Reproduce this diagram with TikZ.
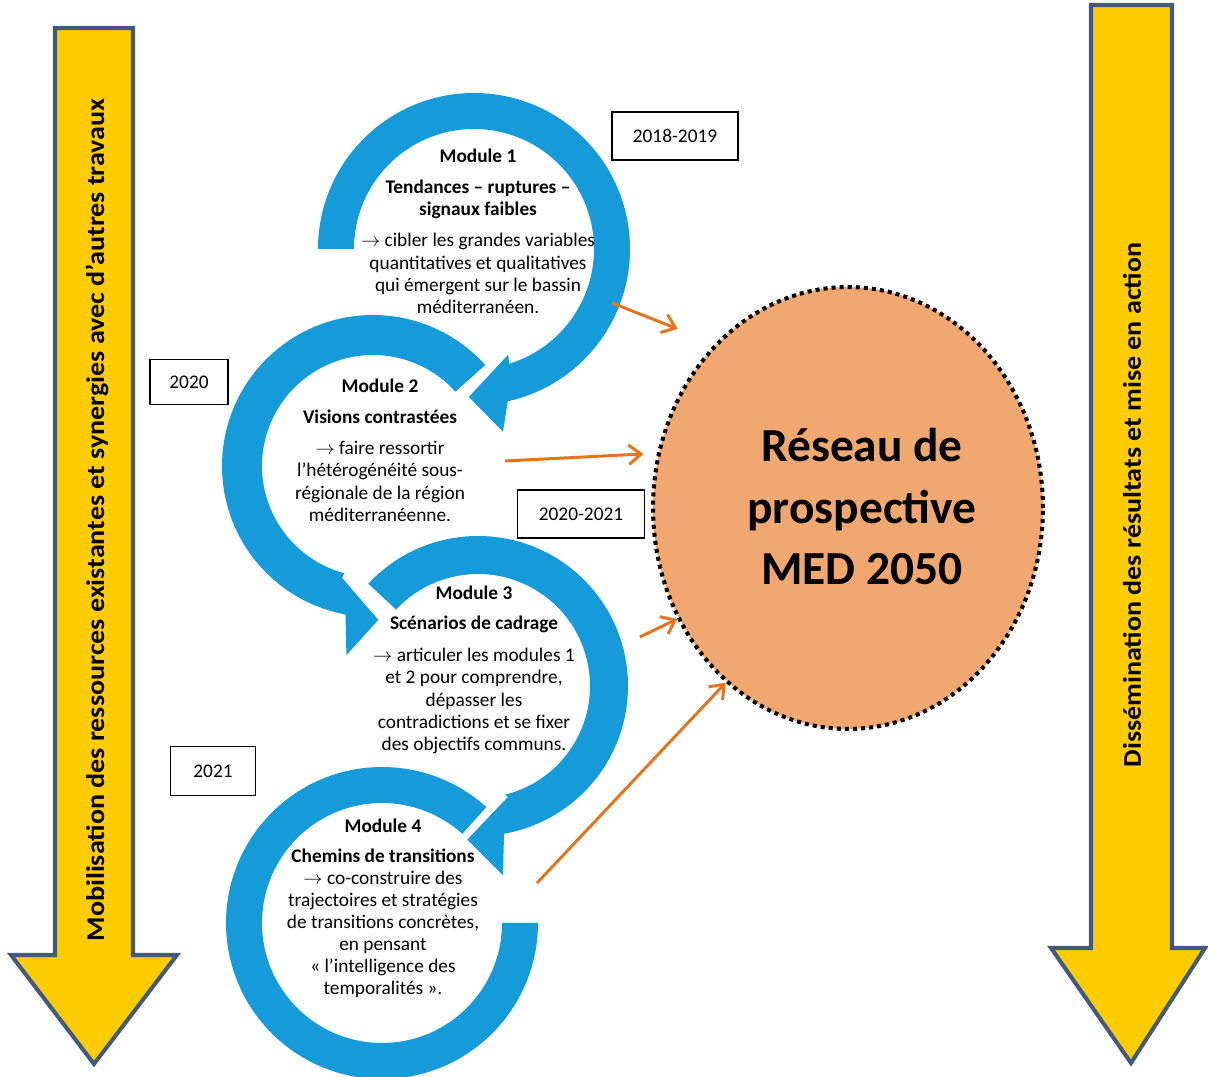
\documentclass[tikz,border=0pt]{standalone}
\usepackage{fontspec}
\setmainfont{Carlito}
\usetikzlibrary{shapes.geometric,arrows.meta}

\definecolor{modblue}{RGB}{22,155,218}
\definecolor{arrowyellow}{RGB}{255,204,0}
\definecolor{arrowedge}{RGB}{65,90,125}
\definecolor{reseaufill}{RGB}{241,168,112}
\definecolor{feedorange}{RGB}{228,117,28}

\begin{document}
\begin{tikzpicture}[x=0.02cm, y=0.02cm,
bigarrow/.style={fill=arrowyellow, draw=arrowedge, line width=2.3pt, line join=miter},
modarc/.style={fill=modblue},
modtext/.style={align=center, inner sep=0pt, anchor=north, font=\fontsize{11}{12.6}\selectfont},
year/.style={draw, line width=0.8pt, fill=white, inner sep=0pt, font=\fontsize{11}{13}\selectfont},
feed/.style={draw=feedorange, line width=1.7pt, -{Straight Barb[length=7pt,width=11pt]}},
sidetext/.style={rotate=90, inner sep=0pt, font=\bfseries\fontsize{14.5}{17}\selectfont}]
\useasboundingbox (0,0) rectangle (1208,-1077);

% side arrows
\draw[bigarrow] (55,-28) -- (133,-28) -- (133,-955) -- (177,-955) -- (94,-1064) -- (11,-955) -- (55,-955) -- cycle;
\draw[bigarrow] (1091,-5) -- (1172,-5) -- (1172,-948) -- (1205,-948) -- (1131,-1063) -- (1051,-948) -- (1091,-948) -- cycle;
\node[sidetext] (mobil) at (97,-520) {\scalebox{1.1}[1]{Mobilisation des ressources existantes et synergies avec d’autres travaux}};
\node[sidetext] (dissem) at (1132,-505) {\scalebox{1.1}[1]{Dissémination des résultats et mise en action}};

% circular arrows
\begin{scope}[shift={(474,-249)}]
\fill[modarc] (180:156) arc[start angle=180, end angle=-77.5, radius=156] -- (-81:185) -- (-92:148) -- (-72:111) -- (-73:120) arc[start angle=-73, end angle=180, radius=120] -- cycle;
\end{scope}
\begin{scope}[shift={(373,-466)}]
\fill[modarc] (42:151) arc[start angle=42, end angle=259.5, radius=151] -- (262:191) -- (272:154) -- (254.5:116) -- (255:111) arc[start angle=255, end angle=42, radius=111] -- cycle;
\end{scope}
\begin{scope}[shift={(478,-686)}]
\fill[modarc] (137:150) arc[start angle=137, end angle=-80, radius=150] -- (-82.5:191) -- (-94:154) -- (-75:115) -- (-76:112) arc[start angle=-76, end angle=137, radius=112] -- cycle;
\end{scope}
\begin{scope}[shift={(382,-923)}]
\fill[modarc] (48:156) arc[start angle=48, end angle=360, radius=156] -- (0:120) arc[start angle=360, end angle=48, radius=120] -- cycle;
\end{scope}

% modules
\node[modtext] (mod1) at (478,-149) {\textbf{Module 1}\\[5pt]
  \textbf{Tendances – ruptures –}\\ \textbf{signaux faibles}\\[5pt]
  $\rightarrow$ cibler les grandes variables\\ quantitatives et qualitatives\\
  qui émergent sur le bassin\\ méditerranéen.};
\node[modtext] (mod2) at (380,-379) {\textbf{Module 2}\\[5pt]
  \textbf{Visions contrastées}\\[5pt]
  $\rightarrow$ faire ressortir\\ l’hétérogénéité sous-\\
  régionale de la région\\ méditerranéenne.};
\node[modtext] (mod3) at (474,-586) {\textbf{Module 3}\\[4pt]
  \textbf{Scénarios de cadrage}\\[6pt]
  $\rightarrow$ articuler les modules 1\\ et 2 pour comprendre,\\ dépasser les\\
  contradictions et se fixer\\ des objectifs communs.};
\node[modtext] (mod4) at (383,-819) {\textbf{Module 4}\\[4pt]
  \textbf{Chemins de transitions}\\
  $\rightarrow$ co-construire des\\ trajectoires et stratégies\\ de transitions concrètes,\\
  en pensant\\ « l’intelligence des\\ temporalités ».};

% years
\node[year, minimum width=2.52cm, minimum height=0.96cm] (y1) at (675,-136) {2018-2019};
\node[year, minimum width=1.56cm, minimum height=0.9cm] (y2) at (189,-382) {2020};
\node[year, minimum width=2.54cm, minimum height=0.96cm] (y3) at (581,-514) {2020-2021};
\node[year, minimum width=1.7cm, minimum height=0.98cm] (y4) at (213,-771) {2021};

% network
\node[ellipse, fill=reseaufill, draw, line width=2.3pt, dash pattern=on 2.3pt off 2.3pt,
  minimum width=7.8cm, minimum height=8.84cm, inner sep=0pt] (reseau) at (848,-508) {};
\node[align=center, inner sep=0pt, font=\bfseries\fontsize{27}{35}\selectfont] (reseautxt) at (862,-507)
  {Réseau de\\ prospective\\ MED 2050};

\coordinate (out1) at (612,-303);
\coordinate (out2) at (505,-461);
\coordinate (out3) at (640,-637);
\coordinate (out4) at (537,-883);
\draw[feed, shorten >=0.8cm] (out1) -- (reseau.129.4);
\draw[feed, shorten >=0.27cm] (out2) -- (reseau.164.5);
\draw[feed] (out3) -- (reseau.213);
\draw[feed] (out4) -- (reseau.235);
\end{tikzpicture}
\end{document}
